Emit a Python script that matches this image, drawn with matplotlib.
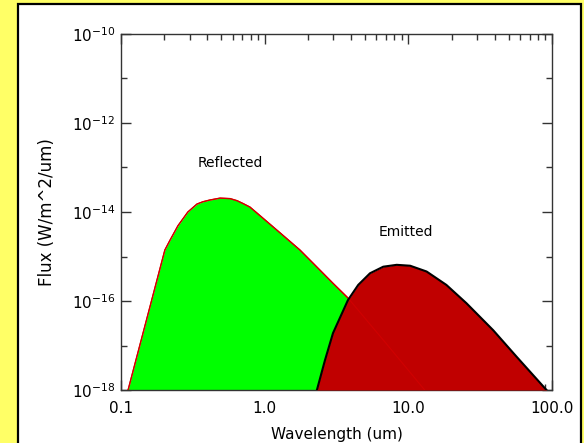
import matplotlib
matplotlib.use("Agg")
import matplotlib.pyplot as plt
import numpy as np
from matplotlib.patches import Rectangle
from matplotlib.ticker import FixedLocator, FixedFormatter, NullFormatter

# Reflected sunlight curve [um], [W/m^2/um]
refl_wl = [0.112, 0.202, 0.219, 0.249, 0.292, 0.338, 0.372, 0.416, 0.489,
           0.574, 0.641, 0.707, 0.790, 0.883, 1.28, 1.76, 2.17, 2.99, 3.80,
           6.87, 13.0]
refl_flux = [1e-18, 1.4e-15, 2.3e-15, 4.9e-15, 1.0e-14, 1.51e-14, 1.7e-14,
             1.86e-14, 2.05e-14, 2.0e-14, 1.8e-14, 1.55e-14, 1.29e-14,
             9.5e-15, 3.4e-15, 1.4e-15, 7.1e-16, 2.5e-16, 1.17e-16, 1.2e-17,
             1e-18]

# Thermal emission curve
emit_wl = [2.31, 2.63, 2.99, 3.80, 4.48, 5.41, 6.69, 8.30, 10.3, 13.4, 18.4,
           25.4, 39.0, 56.7, 91.6]
emit_flux = [1e-18, 4.7e-18, 1.9e-17, 1.05e-16, 2.3e-16, 4.2e-16, 5.9e-16,
             6.5e-16, 6.2e-16, 4.6e-16, 2.3e-16, 8.9e-17, 2.2e-17, 5.6e-18, 1e-18]

x_major = [0.1, 1.0, 10.0, 100.0]
x_labels = ["0.1", "1.0", "10.0", "100.0"]
y_major = [1e-18, 1e-16, 1e-14, 1e-12, 1e-10]
y_labels = [r"10$^{-18}$", r"10$^{-16}$", r"10$^{-14}$", r"10$^{-12}$", r"10$^{-10}$"]
y_minor = [1e-17, 1e-15, 1e-13, 1e-11]

YMIN = 1e-18

fig = plt.figure(figsize=(5.84, 4.43), dpi=100)
fig.patch.set_facecolor("#ffff66")
fig.patches.append(Rectangle((0.031, -0.02), 0.964, 1.011, transform=fig.transFigure,
                             facecolor="white", edgecolor="black", linewidth=1.6,
                             zorder=-1))

ax = fig.add_axes([0.2072, 0.1196, 0.738, 0.8037])
ax.set_xscale("log")
ax.set_yscale("log")
ax.set_xlim(0.1, 100)
ax.set_ylim(1e-18, 1e-10)

# green fill with red outline, then the emitted hump drawn over it
ax.fill_between(refl_wl, refl_flux, YMIN, color="#00ff00", linewidth=0, zorder=2)
ax.plot(refl_wl, refl_flux, color="#e00000", lw=1.0, zorder=2.5)
ax.fill_between(emit_wl, emit_flux, YMIN, color="#c00000", linewidth=0, zorder=3)
ax.plot(refl_wl, refl_flux, color="#d00000", lw=0.8, zorder=3.5)
ax.plot(emit_wl, emit_flux, color="black", lw=1.5, zorder=5)

ax.text(0.574, 1.26e-13, "Reflected", ha="center", va="center", fontsize=10)
ax.text(9.6, 3.5e-15, "Emitted", ha="center", va="center", fontsize=10)

ax.xaxis.set_major_locator(FixedLocator(x_major))
ax.xaxis.set_major_formatter(FixedFormatter(x_labels))
x_minor = [m * d for d in [0.1, 1, 10] for m in range(2, 10)]
ax.xaxis.set_minor_locator(FixedLocator(x_minor))
ax.xaxis.set_minor_formatter(NullFormatter())
ax.yaxis.set_major_locator(FixedLocator(y_major))
ax.yaxis.set_major_formatter(FixedFormatter(y_labels))
ax.yaxis.set_minor_locator(FixedLocator(y_minor))
ax.yaxis.set_minor_formatter(NullFormatter())

ax.tick_params(which="both", direction="in", top=True, right=True,
               color="#333333", labelsize=11, width=1.0)
ax.tick_params(which="major", length=7)
ax.tick_params(which="minor", length=4)
ax.tick_params(axis="x", pad=8)
ax.tick_params(axis="y", pad=4)
for s in ax.spines.values():
    s.set_linewidth(1.0)
    s.set_color("#333333")

ax.set_xlabel("Wavelength (um)", fontsize=11)
ax.set_ylabel("Flux (W/m^2/um)", fontsize=12)
ax.xaxis.set_label_coords(0.5, -0.105)
ax.yaxis.set_label_coords(-0.15, 0.5)

fig.savefig("out.png", dpi=100, facecolor=fig.get_facecolor())
